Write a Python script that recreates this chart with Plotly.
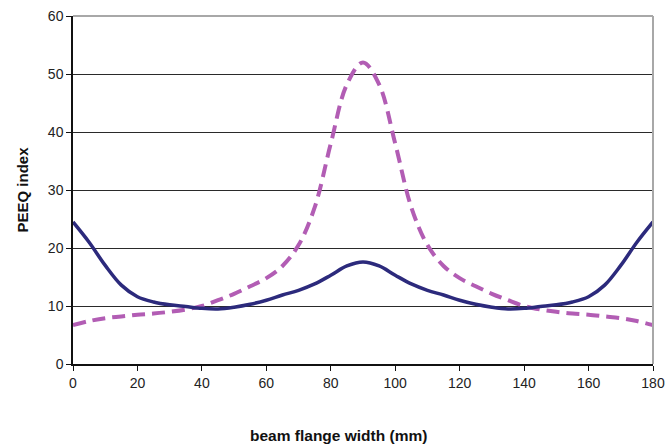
import plotly.graph_objects as go

# beam flange position (mm)
width_mm = [0, 5, 10, 15, 20, 25, 30, 35, 40, 45, 50, 55, 60, 65, 70, 75, 80, 85, 90,
            95, 100, 105, 110, 115, 120, 125, 130, 135, 140, 145, 150, 155, 160, 165, 170, 175, 180]

# PEEQ index along the flange, two cases
peeq_solid = [24.5, 21.0, 17.0, 13.6, 11.6, 10.7, 10.2, 9.9, 9.6, 9.5, 9.8, 10.3, 11.0, 11.9, 12.7, 13.8, 15.3, 16.9, 17.6,
              16.9, 15.3, 13.8, 12.7, 11.9, 11.0, 10.3, 9.8, 9.5, 9.6, 9.9, 10.2, 10.7, 11.6, 13.6, 17.0, 21.0, 24.5]
peeq_dashed = [6.7, 7.4, 7.9, 8.2, 8.5, 8.7, 9.0, 9.4, 10.0, 11.0, 12.1, 13.4, 14.8, 16.9, 20.5, 27.0, 38.0, 48.2, 52.0,
               48.2, 38.0, 27.0, 20.5, 16.9, 14.8, 13.4, 12.1, 11.0, 10.0, 9.4, 9.0, 8.7, 8.5, 8.2, 7.9, 7.4, 6.7]

x_ticks = [0, 20, 40, 60, 80, 100, 120, 140, 160, 180]
y_ticks = [0, 10, 20, 30, 40, 50, 60]

fig = go.Figure()
fig.add_trace(go.Scatter(
    x=width_mm, y=peeq_dashed, mode="lines",
    line=dict(color="#b25db4", width=4, dash="13px,7px", shape="spline", smoothing=1.0),
    showlegend=False,
))
fig.add_trace(go.Scatter(
    x=width_mm, y=peeq_solid, mode="lines",
    line=dict(color="#2c2a7c", width=3.5, shape="spline", smoothing=1.0),
    showlegend=False,
))

# light frame on top and right
fig.add_shape(type="line", xref="paper", yref="paper", x0=0, x1=1, y0=1, y1=1,
              line=dict(color="#a8a8a8", width=2), layer="above")
fig.add_shape(type="line", xref="paper", yref="paper", x0=1, x1=1, y0=0, y1=1,
              line=dict(color="#a8a8a8", width=2), layer="above")

family = "Liberation Sans, Arial, sans-serif"
tick_font = dict(family=family, size=14, color="#222")
title_font = dict(family=family, size=15, color="#111")

# x-axis title, set slightly left of the plot centre
fig.add_annotation(text="<b>beam flange width (mm)</b>", xref="paper", yref="paper",
                   x=0.4586, y=-0.205, xanchor="center", yanchor="middle",
                   showarrow=False, font=dict(family=family, size=15.5, color="#111"))

fig.update_layout(
    width=665, height=447,
    margin=dict(l=73, r=12, t=16, b=83),
    plot_bgcolor="white", paper_bgcolor="white",
    font=tick_font,
    xaxis=dict(
        range=[0, 180], tickvals=x_ticks, showgrid=False, zeroline=False, automargin=False,
        showline=True, linecolor="#111", linewidth=1.5, tickfont=tick_font,
        ticks="outside", ticklen=5, tickcolor="#111", tickwidth=1.2,
    ),
    yaxis=dict(
        range=[0, 60], tickvals=y_ticks, showgrid=True, gridcolor="#2a2a2a", gridwidth=1.4,
        zeroline=False, showline=True, linecolor="#111", linewidth=1.5, automargin=False,
        ticks="outside", ticklen=5, tickcolor="#111", tickwidth=1.2, tickfont=tick_font,
        title=dict(text="<b>PEEQ index</b>", standoff=16, font=title_font),
    ),
)

fig.write_html("out.html")
